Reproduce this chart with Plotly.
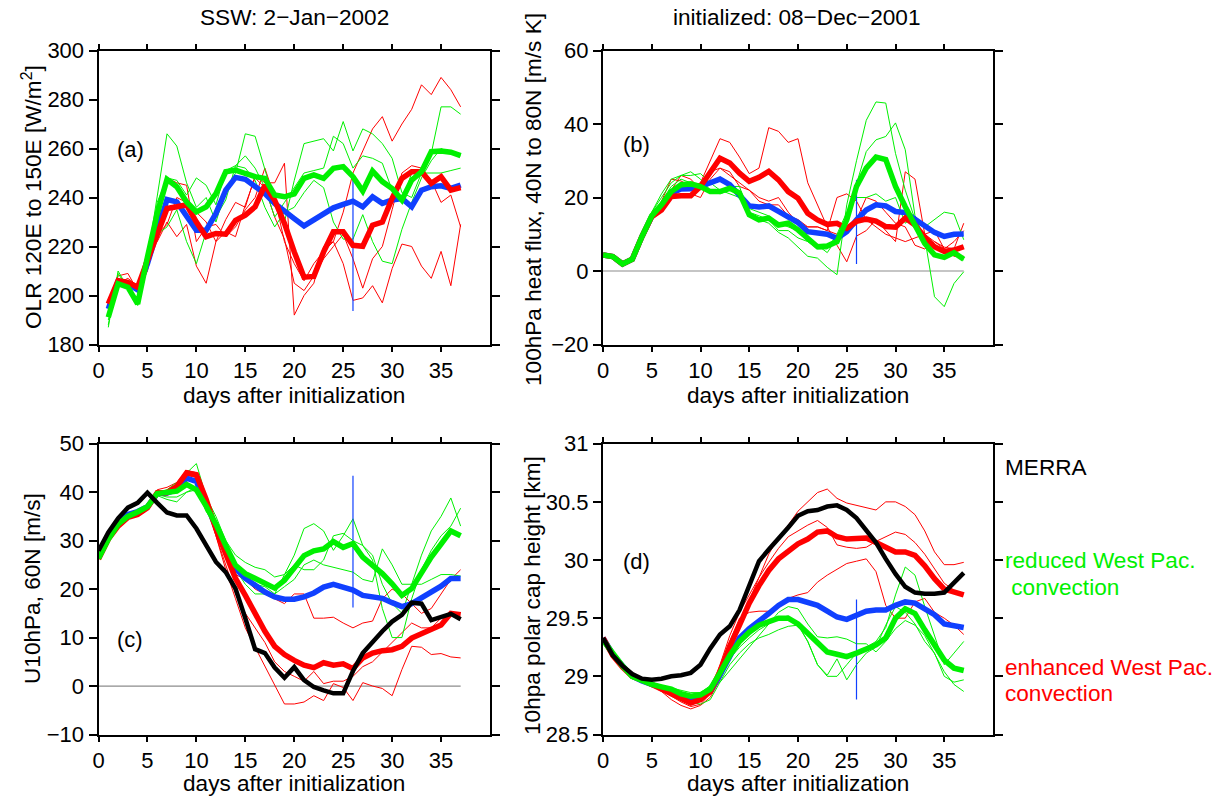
import plotly.graph_objects as go

# ---------------- data ----------------
days = list(range(0, 38))          # panels b, c, d
days_a = list(range(1, 38))        # panel a starts at day 1
xtick_vals = [0, 5, 10, 15, 20, 25, 30, 35]
marker_day = 26                    # blue vertical marker

# (a) OLR 120E-150E [W/m2]
a_red_mean = [196.6,206.1,205.4,203.4,214.3,225.3,235.5,236.2,237,230,224,225.3,225,230.7,232.8,236.2,245,238.9,229.4,217.8,
              207.5,207.8,217.8,226,226,220.5,220.1,228.7,230,239.6,247.8,250.5,250.5,245.8,248.5,243,244]
a_blue_mean = [194.5,205.9,204.8,202.3,213,226.6,239.2,238.2,232.8,226.6,226.6,233.5,243,248.2,247.4,244.4,241.6,237.6,234.8,231.4,
               228.4,230.7,233.5,235.8,237.2,238.5,236.2,240.3,237.6,239,239.6,236.2,243,244.4,244.8,243.7,245.1]
a_green_mean = [191.1,204.8,203.4,196.6,215.7,233.5,247.4,244.4,238.2,234.1,236.2,241.6,250.5,251.2,249.8,248.5,247.8,241,240.3,241.5,
                247.8,249.2,247.8,251.9,252.6,248.5,242.6,250.8,246.5,243.7,239,247.1,250.5,258.7,259,258.5,257.1]
a_red_m1 = [197,208,209,202,210,228,248,246,245,222,228,229,224,228,235,240,252,240,222,213,206,213,218,222,234,250,259,268,273,263,270,276,286,282,289,284,277]
a_red_m2 = [198,205,207,204,218,222,230,224,229,212,205,222,231,238,236,249,246,246,254,192,200,205,220,222,213,198,199,204,197,211,221,220,212,207,218,204,229]
a_red_m3 = [196,206,203,205,215,225,229,240,238,234,230,222,226,224,237,248,244,232,223,205,202,208,215,220,225,215,203,215,220,235,250,253,252,247,238,241,228]
a_green_m1 = [188,209,203,196,215,240,266,261,246,236,240,230,243,250,266,265,252,238,230,247,262,263,264,259,271,259,268,266,262,256,242,240,250,258,277,277,274]
a_green_m2 = [190,206,204,198,212,238,248,247,241,248,245,237,251,253,257,252,244,232,238,244,250,251,252,265,262,252,257,256,254,243,238,250,250,250,250,251,252]
a_green_m3 = [187,210,203,196,216,225,228,235,222,213,226,232,239,253,252,247,236,228,234,236,242,247,244,230,223,223,233,222,214,213,227,238,248,255,260,258,257]
a_marker = [193.7, 248.8]

# (b) 100hPa heat flux 40N-80N [m/s K]
b_red_mean = [4.4,3.9,1.9,3.2,9.4,14.8,16.6,20.3,20.5,20.5,23,26.6,30.7,29.4,26.6,24.4,25.5,27.1,24.8,21.6,
              19.8,15.7,13.9,12.7,13,11.6,13.5,14.1,13.6,12.1,11.9,14.4,12.5,9.2,6.6,5.3,5.7,6.6]
b_blue_mean = [4.4,3.9,1.9,3.2,9.4,14.8,17,21.2,22.3,22.4,23,23.9,25,23.5,20.7,17.7,17.4,17.7,16.2,14.8,
               13.2,10.7,10.3,10,8.9,10.7,13.9,16.6,18,17.7,16.2,15.9,14.1,12.1,10.5,9.4,10,10.1]
b_green_mean = [4.4,3.9,1.9,3.2,9.4,15,18,21.6,23.5,23.7,23,21.6,21.6,22.5,21.2,15.3,13.9,14.4,12.5,13,
                11.2,8.9,6.6,6.8,8,13.9,23,28,31,30.3,23,17.5,12.1,7.5,4.4,3.7,5,3.2]
b_red_m1 = [4.5,4,2,3.5,9.5,14,19,25,24.5,23,24,30,36,35,31,26.5,28,39,38,35,36,24,18,12,7,2.5,9.5,11,14,11,8,27,25,10,8,6.5,6,13]
b_red_m2 = [4.5,4,2,3.3,9.5,15,18,22,26,25,22,27,28,27,23,22,19,18,18,15,14,12,12,11,20,21,19,14,12,10,9,8,9,10,11,6,4,4]
b_red_m3 = [4.3,3.8,1.9,3.2,9.3,14,17,20,20,21,20,25,28,26,24,22,20,19,20,16,13,12,12,11,10,12,14,20,19,16,13,12,7,6,8,6,8,11]
b_green_m1 = [4.5,4,2,3.5,10,16,20,24,26,26,26.5,24,22,23,23,15,14,13,10.5,9,6.5,4,3.5,1,-1,18,30,41,46,45.7,32,22,14,9,-7,-9.7,-3.4,-0.2]
b_green_m2 = [4.4,3.9,1.9,3.3,9.8,16,21,25,26,27,25,22,21,22,21,16,15,14,11,11,9,8,7,5,9,15,24,32.5,35.7,36.6,40.3,33,15,8.5,6.2,4.8,4.4,3]
b_green_m3 = [4.4,3.9,1.9,3.2,9.4,15,19,23,25,24,23,22,22,21,20,17,16,15,13,12,11,8,6,6,10,16,20,20,21,19,20,13,15,12,14,16,15.5,8.5]
b_marker = [1.9, 24.8]

# (c) U10hPa 60N [m/s]
c_black = [27.9,31.7,34.6,36.8,37.8,39.9,37.8,35.8,35.2,35.2,32.5,29,25.6,23.5,20.1,14,7.6,6.8,3.8,1.7,
           3.9,1.2,-0.2,-0.9,-1.5,-1.5,3.1,6.8,9.2,11.3,13.3,14.7,17.2,17,13.6,14.2,14.9,13.8]
c_red_mean = [26.2,30.3,33,34.8,35.4,36.8,39.9,39.9,41.2,44,43.6,38.5,32.4,26.9,22.2,18.7,15,11.3,8.2,6.5,
              5.3,4.3,3.8,4.8,4.3,4.6,3.6,5.8,6.8,7.3,7.5,8.2,9.9,10.9,11.9,12.6,15,14.7]
c_blue_mean = [26.5,30.5,33.6,35.4,36,37,39.7,39.8,40.5,42.9,42.2,37.8,32.7,28.3,24.2,22.2,20.8,19.4,18.4,17.9,
               17.9,18.4,19.2,20.4,21,20.4,19.8,18.7,18.4,18.1,17.2,16.4,17,18.1,19.3,20.6,22.2,22.2]
c_green_mean = [26.3,30.3,33.4,35,35.9,37,39.7,39.9,40.2,41.6,40.5,37.1,33.4,29,24.9,23.2,22.3,21.1,20.2,21.8,
                24.2,26.9,27.9,28.3,29.8,28.6,29.4,26.6,24.9,23.2,21.1,18.7,20.1,23.5,26.6,29.3,32,31]
c_red_m1 = [26.2,30.2,33.2,34.8,35.6,37,40.5,41,42,44.5,44,39,34,28,23,22,20,19,18,17,19,19,14,14,14.2,13,12,13,13.4,18,20,19,17,15,16,19,22,24]
c_red_m2 = [26.1,30.3,33,34.7,35.3,36.8,39.5,39.8,41,43.5,43,38,31,24,18,12,8,4,0,-3.7,-3.7,-3.3,-2,-3,0.5,-0.3,-3,0.7,0,-0.5,-2,3.4,8.2,8,6.5,6.7,6,5.8]
c_red_m3 = [26.3,30.4,33.1,34.9,35.5,36.6,39.6,39.5,40.5,44,43.8,38,31,25,19,15,12,9,5,3,2,1,3,0.5,1,1,2,4,5,7,9,11,13,12,12,14,15,14]
c_green_m1 = [26.3,30.2,33.3,35,36,37.2,40,40.5,42,44,45.9,39,35,30,27,25.5,24.5,24,22.5,23,27,32.5,33.5,32,28,31,34.5,29,27,21,17,15,21,27,32,35,38.8,33]
c_green_m2 = [26.2,30.3,33.4,35,35.8,37,39.5,39,39,40,40.5,38,33,28.5,25,23,21,20.5,19,20.5,22,25,26,25,24.5,24,23.5,22,21.5,28.3,25,21,21,21,22,23,23,22.7]
c_green_m3 = [26.3,30.4,33.5,35.1,35.9,36.9,39.3,38.5,38,40,41,36,33,29,24,21,19,19,19,23,25,24,24,26,31,31.5,30,29,26,16,10,10,18,24,28,31,33,36.7]
c_marker = [16.2, 43.4]

# (d) 10hPa polar cap height [km]
d_black = [29.33,29.18,29.09,29.02,28.98,28.97,28.98,29,29.01,29.03,29.1,29.24,29.36,29.43,29.57,29.78,29.99,30.09,30.18,30.28,
           30.38,30.42,30.43,30.46,30.47,30.43,30.36,30.26,30.15,30.01,29.88,29.77,29.72,29.71,29.71,29.72,29.8,29.89]
d_red_mean = [29.33,29.18,29.08,29,28.97,28.93,28.89,28.84,28.8,28.77,28.8,28.87,29.04,29.26,29.44,29.63,29.78,29.91,30.01,30.08,
              30.14,30.18,30.24,30.25,30.2,30.18,30.18,30.19,30.15,30.11,30.07,30.07,30.04,29.95,29.84,29.75,29.72,29.7]
d_blue_mean = [29.33,29.19,29.09,29.0,28.96,28.93,28.9,28.87,28.84,28.81,28.83,28.87,29.01,29.18,29.33,29.41,29.47,29.54,29.61,29.66,
               29.66,29.64,29.61,29.56,29.51,29.49,29.53,29.56,29.57,29.57,29.61,29.64,29.63,29.58,29.53,29.45,29.43,29.42]
d_green_mean = [29.31,29.2,29.09,29,28.96,28.93,28.91,28.89,28.85,28.83,28.84,28.89,29.03,29.18,29.3,29.38,29.44,29.47,29.5,29.5,
                29.45,29.37,29.29,29.21,29.19,29.17,29.2,29.24,29.27,29.33,29.5,29.58,29.54,29.4,29.26,29.14,29.07,29.05]
d_red_m1 = [29.33,29.18,29.08,29.0,28.96,28.92,28.87,28.8,28.75,28.72,28.75,28.82,28.97,29.2,29.45,29.65,29.85,30.05,30.2,30.3,
            30.42,30.5,30.58,30.61,30.53,30.49,30.47,30.45,30.43,30.5,30.5,30.46,30.39,30.25,30.07,29.96,29.96,29.98]
d_red_m2 = [29.33,29.18,29.08,29.0,28.97,28.93,28.9,28.85,28.8,28.78,28.8,28.88,29.1,29.35,29.55,29.7,29.85,29.98,30.1,30.2,
            30.25,30.3,30.34,30.28,30.13,30.11,30.1,30.11,30.16,30.2,30.24,30.22,30.15,30.05,29.92,29.8,29.74,29.71]
d_red_m3 = [29.33,29.18,29.08,29.0,28.97,28.93,28.88,28.83,28.78,28.74,28.76,28.85,29.05,29.3,29.5,29.55,29.56,29.56,29.6,29.67,
            29.7,29.72,29.81,29.87,29.92,29.97,29.99,30.01,29.9,29.61,29.5,29.5,29.64,29.67,29.55,29.5,29.44,29.36]
d_green_m1 = [29.31,29.2,29.09,29,28.96,28.93,28.9,28.88,28.86,28.84,28.86,28.92,29.0,29.15,29.25,29.33,29.4,29.45,29.5,29.52,
              29.45,29.3,29.1,29.0,29.0,29.1,29.2,29.25,29.3,29.42,29.7,29.94,29.87,29.6,29.35,29.1,29.2,29.3]
d_green_m2 = [29.31,29.2,29.09,29,28.97,28.94,28.92,28.9,28.88,28.86,28.86,28.9,28.95,29.05,29.15,29.25,29.35,29.45,29.55,29.6,
              29.58,29.45,29.34,29.33,29.34,29.32,29.28,29.28,29.21,29.3,29.41,29.48,29.44,29.35,29.2,29.04,28.93,28.87]
d_green_m3 = [29.31,29.2,29.09,29,28.95,28.92,28.88,28.84,28.8,28.78,28.76,28.8,28.95,29.1,29.2,29.28,29.33,29.36,29.4,29.43,
              29.44,29.3,29.1,29.01,29.15,28.97,29.1,29.2,29.25,29.44,29.6,29.55,29.45,29.3,29.2,29.0,28.95,28.97]
d_marker = [28.80, 29.66]

col_titles = ["SSW: 2\u2212Jan\u22122002", "initialized: 08\u2212Dec\u22122001"]
y_titles = ["OLR 120E to 150E [W/m<sup>2</sup>]", "100hPa heat flux, 40N to 80N [m/s K]",
            "U10hPa, 60N [m/s]", "10hpa polar cap height [km]"]
x_title = "days after initialization"
panel_tags = ["(a)", "(b)", "(c)", "(d)"]
legend_lines = [("MERRA", "black"), ("reduced West Pac.", "green"), ("\u00a0convection", "green"),
                ("enhanced West Pac.", "red"), ("convection", "red")]

# ---------------- style ----------------
W, H = 1213, 798
RED, GREEN, BLUE, BLACK, GRAY = "#ff0000", "#00f000", "#1040ff", "#000000", "#8c8c8c"
FONT = "Liberation Sans, Arial, Helvetica, sans-serif"
TXT = 22.6
TICK = 22

def px_x(p):
    return p / W

def px_y(p):
    return 1 - p / H

xdom_left = [px_x(98.5), px_x(490)]
xdom_right = [px_x(603), px_x(993)]
ydom_top = [px_y(344.5), px_y(50.5)]
ydom_bot = [px_y(734.5), px_y(443.7)]

fig = go.Figure()

def line(x, y, color, width, xa, ya, dash=None):
    fig.add_trace(go.Scatter(x=x, y=y, mode="lines", xaxis=xa, yaxis=ya, showlegend=False,
                             hoverinfo="skip", line=dict(color=color, width=width, dash=dash)))

panels = [
    ("x", "y", days_a, [a_red_m1, a_red_m2, a_red_m3], [a_green_m1, a_green_m2, a_green_m3],
     a_blue_mean, a_red_mean, a_green_mean, None, a_marker, False),
    ("x2", "y2", days, [b_red_m1, b_red_m2, b_red_m3], [b_green_m1, b_green_m2, b_green_m3],
     b_blue_mean, b_red_mean, b_green_mean, None, b_marker, True),
    ("x3", "y3", days, [c_red_m1, c_red_m2, c_red_m3], [c_green_m1, c_green_m2, c_green_m3],
     c_blue_mean, c_red_mean, c_green_mean, c_black, c_marker, True),
    ("x4", "y4", days, [d_red_m1, d_red_m2, d_red_m3], [d_green_m1, d_green_m2, d_green_m3],
     d_blue_mean, d_red_mean, d_green_mean, d_black, d_marker, False),
]

for xa, ya, xd, reds, greens, bl, rd, gr, bk, mk, zero in panels:
    if zero:
        line([xd[0], xd[-1]], [0, 0], GRAY, 1.2, xa, ya)
    for m in reds:
        line(xd, m, RED, 1.0, xa, ya)
    for m in greens:
        line(xd, m, GREEN, 1.0, xa, ya)
    line([marker_day, marker_day], mk, BLUE, 1.2, xa, ya)
    line(xd, bl, BLUE, 5.5, xa, ya)
    line(xd, rd, RED, 5.5, xa, ya)
    line(xd, gr, GREEN, 5.5, xa, ya)
    if bk is not None:
        line(xd, bk, BLACK, 4.5, xa, ya)

def xaxis(dom, anchor):
    return dict(domain=dom, anchor=anchor, range=[0, 40], tickvals=xtick_vals,
                showline=True, linecolor="black", linewidth=2, mirror="ticks",
                ticks="outside", ticklen=5, tickwidth=1.5, tickcolor="black",
                showgrid=False, zeroline=False, automargin=False,
                tickfont=dict(family=FONT, size=TICK, color="black"))

def yaxis(dom, anchor, rng, dtick):
    return dict(domain=dom, anchor=anchor, range=rng, dtick=dtick, tick0=rng[0],
                showline=True, linecolor="black", linewidth=2, mirror="ticks",
                ticks="outside", ticklen=8, tickwidth=1.5, tickcolor="black",
                showgrid=False, zeroline=False, automargin=False,
                tickfont=dict(family=FONT, size=TICK, color="black"))

fig.update_layout(
    width=W, height=H, autosize=False,
    margin=dict(l=0, r=0, t=0, b=0, pad=0, autoexpand=False),
    paper_bgcolor="white", plot_bgcolor="white", showlegend=False,
    font=dict(family=FONT, size=TXT, color="black"),
    xaxis=xaxis(xdom_left, "y"), yaxis=yaxis(ydom_top, "x", [180, 300], 20),
    xaxis2=xaxis(xdom_right, "y2"), yaxis2=yaxis(ydom_top, "x2", [-20, 60], 20),
    xaxis3=xaxis(xdom_left, "y3"), yaxis3=yaxis(ydom_bot, "x3", [-10, 50], 10),
    xaxis4=xaxis(xdom_right, "y4"), yaxis4=yaxis(ydom_bot, "x4", [28.5, 31], 0.5),
)

ann = []
def text(t, x, y, color="black", angle=0, xanchor="center", size=TXT, xref="paper", yref="paper"):
    ann.append(dict(text=t, x=x, y=y, xref=xref, yref=yref, showarrow=False, textangle=angle,
                    xanchor=xanchor, yanchor="middle", font=dict(family=FONT, size=size, color=color)))

# column titles
text(col_titles[0], px_x(294), px_y(18))
text(col_titles[1], px_x(797), px_y(18))
# x axis titles
for cx in (294, 798):
    text(x_title, px_x(cx), px_y(395))
    text(x_title, px_x(cx), px_y(783))
# y axis titles
text(y_titles[0], px_x(32), px_y(197), angle=-90)
text(y_titles[1], px_x(533), px_y(200), angle=-90)
text(y_titles[2], px_x(32), px_y(589), angle=-90)
text(y_titles[3], px_x(532), px_y(596), angle=-90)
# panel tags (data coordinates)
text(panel_tags[0], 3.3, 259.4, xref="x", yref="y", size=22)
text(panel_tags[1], 3.4, 34.4, xref="x2", yref="y2", size=22)
text(panel_tags[2], 3.2, 9.5, xref="x3", yref="y3", size=22)
text(panel_tags[3], 3.4, 29.99, xref="x4", yref="y4", size=22)
# right-hand key
key_y = [467, 560, 587, 667, 693]
key_x = [1003, 1003, 1003, 1003, 1003]
for (t, c), yy, xx in zip(legend_lines, key_y, key_x):
    colr = {"black": BLACK, "green": GREEN, "red": RED}[c]
    text(t, px_x(xx), px_y(yy), color=colr, xanchor="left")

fig.update_layout(annotations=ann)
fig.write_html("out.html")
